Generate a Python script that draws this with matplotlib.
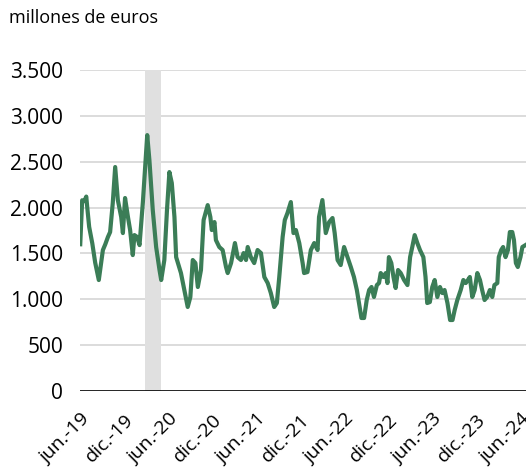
import matplotlib
matplotlib.use("Agg")
import matplotlib.pyplot as plt
import pandas as pd

# serie diaria (millones de euros)
dates = [
    "2019-06-01", "2019-06-09", "2019-06-18", "2019-06-26", "2019-06-30", "2019-07-08",
    "2019-07-21", "2019-08-02", "2019-08-17", "2019-09-03", "2019-09-13", "2019-09-24",
    "2019-10-03", "2019-10-14", "2019-10-24", "2019-11-04", "2019-11-18", "2019-11-25",
    "2019-12-04", "2019-12-16", "2019-12-25", "2020-01-05", "2020-01-12", "2020-01-23",
    "2020-02-02", "2020-02-16", "2020-03-05", "2020-03-14", "2020-03-28", "2020-04-11",
    "2020-04-25", "2020-05-02", "2020-05-15", "2020-05-26", "2020-06-05", "2020-06-15",
    "2020-06-26", "2020-07-03", "2020-07-23", "2020-08-06", "2020-08-20", "2020-08-31",
    "2020-09-10", "2020-09-21", "2020-10-01", "2020-10-14", "2020-10-25", "2020-11-11",
    "2020-11-22", "2020-11-28", "2020-12-09", "2020-12-15", "2020-12-29", "2021-01-12",
    "2021-01-26", "2021-02-02", "2021-02-16", "2021-03-04", "2021-03-15", "2021-03-29",
    "2021-04-09", "2021-04-19", "2021-04-26", "2021-05-09", "2021-05-23", "2021-06-06",
    "2021-06-20", "2021-07-04", "2021-07-18", "2021-07-31", "2021-08-14", "2021-08-25",
    "2021-09-04", "2021-09-18", "2021-09-27", "2021-10-08", "2021-10-22", "2021-11-02",
    "2021-11-12", "2021-11-26", "2021-12-10", "2021-12-16", "2021-12-30", "2022-01-13",
    "2022-01-27", "2022-02-10", "2022-02-16", "2022-03-02", "2022-03-16", "2022-03-30",
    "2022-04-13", "2022-04-22", "2022-05-04", "2022-05-17", "2022-05-31", "2022-06-14",
    "2022-06-28", "2022-07-11", "2022-07-23", "2022-08-01", "2022-08-11", "2022-08-22",
    "2022-09-02", "2022-09-12", "2022-09-22", "2022-10-02", "2022-10-14", "2022-10-23",
    "2022-10-30", "2022-11-10", "2022-11-20", "2022-11-27", "2022-12-03", "2022-12-13",
    "2022-12-22", "2022-12-31", "2023-01-10", "2023-01-21", "2023-02-04", "2023-02-18",
    "2023-03-01", "2023-03-10", "2023-03-20", "2023-03-31", "2023-04-11", "2023-04-25",
    "2023-05-04", "2023-05-11", "2023-05-22", "2023-06-01", "2023-06-11", "2023-06-22",
    "2023-07-03", "2023-07-13", "2023-07-22", "2023-08-03", "2023-08-14", "2023-08-24",
    "2023-09-02", "2023-09-13", "2023-09-27", "2023-10-08", "2023-10-18", "2023-10-27",
    "2023-11-04", "2023-11-14", "2023-11-24", "2023-12-05", "2023-12-16", "2023-12-25",
    "2024-01-04", "2024-01-15", "2024-01-26", "2024-02-05", "2024-02-14", "2024-02-26",
    "2024-03-03", "2024-03-13", "2024-03-21", "2024-03-31", "2024-04-10", "2024-04-18",
    "2024-04-28", "2024-05-05", "2024-05-13", "2024-05-21", "2024-06-01", "2024-06-09",
    "2024-06-22",
]
values = [
    1600, 2080, 2070, 2120, 2005, 1790,
    1610, 1400, 1210, 1537, 1600, 1680,
    1733, 2050, 2442, 2082, 1897, 1722,
    2104, 1897, 1755, 1482, 1700, 1680,
    1591, 2060, 2790, 2518, 1973, 1570,
    1319, 1210, 1428, 1973, 2387, 2267,
    1897, 1460, 1286, 1100, 916, 1025,
    1428, 1395, 1134, 1319, 1864, 2027,
    1897, 1755, 1842, 1646, 1570, 1537,
    1352, 1286, 1395, 1613, 1460, 1428,
    1504, 1428, 1570, 1460, 1395, 1537,
    1504, 1243, 1177, 1068, 916, 959,
    1243, 1680, 1864, 1940, 2060, 1722,
    1755, 1613, 1395, 1286, 1297, 1537,
    1613, 1537, 1897, 2082, 1722, 1842,
    1886, 1722, 1428, 1373, 1570, 1460,
    1352, 1243, 1101, 959, 796, 796,
    992, 1101, 1134, 1025, 1155, 1177,
    1286, 1243, 1286, 1177, 1460, 1395,
    1243, 1123, 1319, 1286, 1210, 1155,
    1460, 1570, 1700, 1613, 1537, 1460,
    1243, 959, 970, 1134, 1210, 1025,
    1134, 1068, 1101, 959, 774, 774,
    883, 992, 1101, 1210, 1177, 1210,
    1243, 1025, 1101, 1286, 1210, 1101,
    992, 1025, 1101, 1025, 1155, 1177,
    1460, 1537, 1570, 1460, 1537, 1733,
    1733, 1646, 1395, 1352, 1460, 1570,
    1591,
]

# periodo sombreado (confinamiento)
band_start = "2020-02-25"
band_end = "2020-05-02"

tick_dates = ["2019-06-01", "2019-12-01", "2020-06-01", "2020-12-01", "2021-06-01",
              "2021-12-01", "2022-06-01", "2022-12-01", "2023-06-01", "2023-12-01",
              "2024-06-01"]
tick_labels = ["jun.-19", "dic.-19", "jun.-20", "dic.-20", "jun.-21", "dic.-21",
               "jun.-22", "dic.-22", "jun.-23", "dic.-23", "jun.-24"]
y_ticks = [0, 500, 1000, 1500, 2000, 2500, 3000, 3500]
y_labels = ["0", "500", "1.000", "1.500", "2.000", "2.500", "3.000", "3.500"]

plt.rcParams["font.family"] = ["Open Sans", "DejaVu Sans"]

fig = plt.figure(figsize=(5.26, 4.68), dpi=100)
ax = fig.add_axes([80 / 526, 1 - 391 / 468, 446 / 526, 321 / 468])

s = pd.Series(values, index=pd.to_datetime(dates))

ax.axvspan(pd.Timestamp(band_start), pd.Timestamp(band_end), color="#e0e0e0", lw=0, zorder=1)
for y in y_ticks[1:]:
    ax.axhline(y, color="#d9d9d9", lw=1.3, zorder=0)
ax.axhline(0, color="black", lw=1.2, zorder=3)
ax.plot(s.index, s.values, color="#3b7d57", lw=3.0, zorder=2, solid_joinstyle="round")

ax.set_ylim(0, 3500)
ax.set_xlim(pd.Timestamp("2019-05-31"), pd.Timestamp("2024-06-24"))
ax.set_yticks(y_ticks)
ax.set_yticklabels(y_labels, fontsize=15)
ax.set_xticks(pd.to_datetime(tick_dates))
ax.set_xticklabels(tick_labels, fontsize=14, rotation=45, ha="right", rotation_mode="anchor")
ax.tick_params(axis="both", length=0)
ax.tick_params(axis="y", pad=12)
ax.tick_params(axis="x", pad=14)
for sp in ax.spines.values():
    sp.set_visible(False)

fig.text(9 / 526, 1 - 18 / 468, "millones de euros", fontsize=13, va="center", ha="left")

fig.savefig("out.png", dpi=100)
